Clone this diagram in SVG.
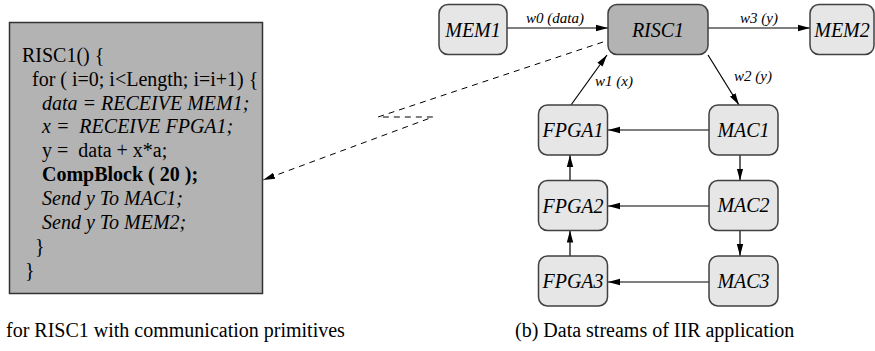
<svg xmlns="http://www.w3.org/2000/svg" width="875" height="351" viewBox="0 0 875 351" font-family="'Liberation Serif', 'Times New Roman', 'DejaVu Serif', serif">
  <style>
    text { fill: #000; }
    .code { font-size: 20px; white-space: pre; }
    .it { font-style: italic; }
    .b { font-weight: bold; }
    .node rect { fill: #e6e6e6; stroke: #404040; stroke-width: 1.5; }
    .node.cpu rect { fill: #b3b3b3; }
    .node text { font-size: 20px; font-style: italic; text-anchor: middle; }
    .edge { fill: none; stroke: #000; stroke-width: 1.2; }
    .dash { fill: none; stroke: #000; stroke-width: 1; stroke-dasharray: 6 5; }
    .lbl { font-size: 15px; font-style: italic; }
    .cap { font-size: 20px; }
  </style>
  <defs>
    <marker id="arr" viewBox="0 0 12 8" refX="12" refY="4" markerWidth="12" markerHeight="8" markerUnits="userSpaceOnUse" orient="auto">
      <path d="M0,0.8 L12,4 L0,7.2 Z" fill="#000"/>
    </marker>
  </defs>

  <!-- pseudo code block -->
  <g id="code">
    <rect x="9.5" y="22.5" width="253" height="271" fill="#b3b3b3" stroke="#333" stroke-width="1.5"/>
    <text class="code" x="22" y="62">RISC1() {</text>
    <text class="code" x="32" y="86">for ( i=0; i&lt;Length; i=i+1) {</text>
    <text class="code it" x="42" y="110">data = RECEIVE MEM1;</text>
    <text class="code it" x="42" y="133">x =  RECEIVE FPGA1;</text>
    <text class="code" x="42" y="157">y =  data + x*a;</text>
    <text class="code b" x="42" y="181">CompBlock ( 20 );</text>
    <text class="code it" x="42" y="205">Send y To MAC1;</text>
    <text class="code it" x="42" y="229">Send y To MEM2;</text>
    <text class="code" x="35" y="253">}</text>
    <text class="code" x="25" y="277">}</text>
  </g>

  <!-- connectors -->
  <g id="connectors">
    <line class="edge" x1="507" y1="28" x2="608" y2="28" marker-end="url(#arr)"/>
    <line class="edge" x1="708" y1="28" x2="810" y2="28" marker-end="url(#arr)"/>
    <line class="edge" x1="571" y1="105" x2="607" y2="55" marker-end="url(#arr)"/>
    <line class="edge" x1="708" y1="55" x2="739" y2="105" marker-end="url(#arr)"/>
    <line class="edge" x1="709" y1="130" x2="608" y2="130" marker-end="url(#arr)"/>
    <line class="edge" x1="709" y1="206" x2="608" y2="206" marker-end="url(#arr)"/>
    <line class="edge" x1="709" y1="282" x2="608" y2="282" marker-end="url(#arr)"/>
    <line class="edge" x1="740" y1="155" x2="740" y2="180.5" marker-end="url(#arr)"/>
    <line class="edge" x1="740" y1="230.5" x2="740" y2="256" marker-end="url(#arr)"/>
    <line class="edge" x1="570" y1="180.5" x2="570" y2="155" marker-end="url(#arr)"/>
    <line class="edge" x1="570" y1="256" x2="570" y2="230.5" marker-end="url(#arr)"/>
    <polyline class="dash" points="603,42 378,117 433,117 263,180" marker-end="url(#arr)"/>
    <text class="lbl" x="526" y="23">w0 (data)</text>
    <text class="lbl" x="740" y="23">w3 (y)</text>
    <text class="lbl" x="595" y="86">w1 (x)</text>
    <text class="lbl" x="734" y="81">w2 (y)</text>
  </g>

  <g id="MEM1" class="node"><rect x="439" y="4.5" width="68" height="50" rx="9"/><text x="473" y="37">MEM1</text></g>
  <g id="RISC1" class="node cpu"><rect x="608" y="4.5" width="100" height="50" rx="9"/><text x="658" y="37">RISC1</text></g>
  <g id="MEM2" class="node"><rect x="810" y="4.5" width="64" height="50" rx="9"/><text x="842" y="37">MEM2</text></g>
  <g id="FPGA1" class="node"><rect x="538.5" y="105" width="69" height="50" rx="9"/><text x="573" y="137">FPGA1</text></g>
  <g id="MAC1" class="node"><rect x="709" y="105" width="69" height="50" rx="9"/><text x="743.5" y="137">MAC1</text></g>
  <g id="FPGA2" class="node"><rect x="538.5" y="180.5" width="69" height="50" rx="9"/><text x="573" y="213">FPGA2</text></g>
  <g id="MAC2" class="node"><rect x="709" y="180.5" width="69" height="50" rx="9"/><text x="743.5" y="212">MAC2</text></g>
  <g id="FPGA3" class="node"><rect x="538.5" y="256" width="69" height="50" rx="9"/><text x="573" y="288">FPGA3</text></g>
  <g id="MAC3" class="node"><rect x="709" y="256" width="69" height="50" rx="9"/><text x="743.5" y="288">MAC3</text></g>

  <!-- captions -->
  <text class="cap" x="6" y="337">for RISC1 with communication primitives</text>
  <text class="cap" x="515" y="337">(b) Data streams of IIR application</text>
</svg>
